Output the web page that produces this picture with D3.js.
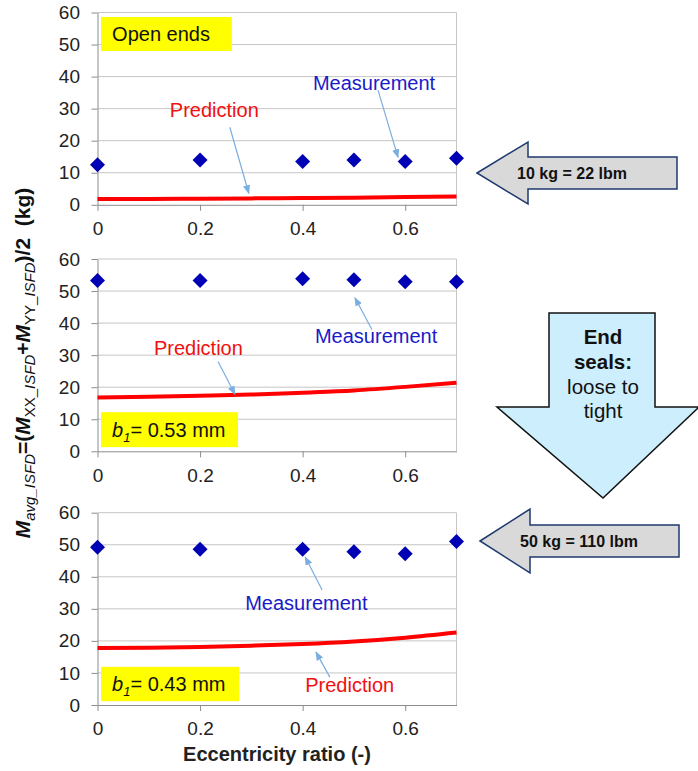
<!DOCTYPE html>
<html>
<head>
<meta charset="utf-8">
<script src="https://cdn.jsdelivr.net/npm/d3@7"></script>
<style>
  body { margin: 0; background: #fff; }
  svg { display: block; font-family: "Liberation Sans", Arial, sans-serif; }
</style>
</head>
<body>
<div id="app"></div>
<script>
const width = 698;
const height = 771;

// eccentricity ratios where measurements were taken
const ecc = [0, 0.2, 0.4, 0.5, 0.6, 0.7];
const measOpen = [12.5, 14, 13.5, 14, 13.5, 14.5];
const meas053 = [53.3, 53.3, 53.8, 53.5, 52.9, 52.9];
const meas043 = [49.2, 48.6, 48.6, 47.8, 47.2, 51.0];

// prediction curves
const predX = [0, 0.1, 0.2, 0.3, 0.4, 0.5, 0.6, 0.7];
const predOpen = [1.8, 1.8, 1.9, 2.0, 2.1, 2.2, 2.4, 2.6];
const pred053 = [16.8, 17.0, 17.3, 17.7, 18.3, 19.0, 20.1, 21.4];
const pred043 = [17.8, 17.9, 18.1, 18.5, 19.0, 19.8, 21.0, 22.6];

const yTicks = [0, 10, 20, 30, 40, 50, 60];
const xTicks = [0, 0.2, 0.4, 0.6];
const xTickLabels = ['0', '0.2', '0.4', '0.6'];

const panels = [
  {
    top: 12.5, meas: measOpen, pred: predOpen,
    box: {x0: 0.007, x1: 0.262, y0: 58.6, y1: 48, label: 'Open ends'},
    measText: [0.42, 38], measArrow: [0.547, 35.8, 0.586, 14.8],
    predText: [0.141, 29.5], predArrow: [0.258, 24.2, 0.295, 3.6],
  },
  {
    top: 259, meas: meas053, pred: pred053,
    box: {x0: 0.007, x1: 0.274, y0: 12.2, y1: 1.3, b1: '0.53'},
    measText: [0.424, 36.1], measArrow: [0.535, 38.0, 0.502, 47.9],
    predText: [0.110, 32.4], predArrow: [0.235, 28.0, 0.268, 17.8],
  },
  {
    top: 512.7, meas: meas043, pred: pred043,
    box: {x0: 0.007, x1: 0.276, y0: 11.9, y1: 1.2, b1: '0.43'},
    measText: [0.288, 32], measArrow: [0.438, 35.9, 0.405, 46.2],
    predText: [0.405, 6.2], predArrow: [0.453, 8.7, 0.426, 16.5],
  },
];

const plotLeft = 97.5;
const plotRight = 456.5;
const plotH = 192.3;
const FONT = '"Liberation Sans", Arial, sans-serif';

const svg = d3.select('#app').append('svg')
  .attr('width', width)
  .attr('height', height);

const defs = svg.append('defs');
defs.append('marker')
  .attr('id', 'ah')
  .attr('viewBox', '0 0 10 10')
  .attr('refX', 9).attr('refY', 5)
  .attr('markerWidth', 9).attr('markerHeight', 9)
  .attr('markerUnits', 'userSpaceOnUse')
  .attr('orient', 'auto')
  .append('path')
  .attr('d', 'M0,1 L10,5 L0,9 Z')
  .attr('fill', '#7aaee0');

const x = d3.scaleLinear().domain([0, 0.7]).range([plotLeft, plotRight]);

panels.forEach((p)=>{
  const y = d3.scaleLinear().domain([0, 60]).range([p.top + plotH, p.top]);
  const g = svg.append('g');

  // gridlines
  g.append('g')
    .selectAll('line')
    .data(yTicks.filter((t)=>t > 0))
    .join('line')
    .attr('x1', plotLeft).attr('x2', plotRight)
    .attr('y1', (d)=>y(d)).attr('y2', (d)=>y(d))
    .attr('stroke', '#c6c6c6')
    .attr('stroke-width', 1);

  // right border
  g.append('line')
    .attr('x1', plotRight).attr('x2', plotRight)
    .attr('y1', y(60)).attr('y2', y(0))
    .attr('stroke', '#c6c6c6');

  const yAxis = g.append('g')
    .attr('transform', `translate(${plotLeft},0)`)
    .call(d3.axisLeft(y).tickValues(yTicks).tickSize(6).tickPadding(11.5).tickSizeOuter(0));
  yAxis.select('.domain').attr('stroke', '#8c8c8c');
  yAxis.selectAll('.tick line').attr('stroke', '#8c8c8c');
  yAxis.selectAll('text').attr('font-size', 19).attr('fill', '#222').attr('font-family', FONT);

  const xAxis = g.append('g')
    .attr('transform', `translate(0,${y(0)})`)
    .call(d3.axisBottom(x).tickValues(xTicks).tickFormat((d, i)=>xTickLabels[i])
      .tickSize(6).tickPadding(11).tickSizeOuter(0));
  xAxis.select('.domain').attr('stroke', '#8c8c8c');
  xAxis.selectAll('.tick line').attr('stroke', '#8c8c8c');
  xAxis.selectAll('text').attr('font-size', 19).attr('fill', '#222').attr('font-family', FONT);

  // yellow label box
  g.append('rect')
    .attr('x', x(p.box.x0)).attr('y', y(p.box.y0))
    .attr('width', x(p.box.x1) - x(p.box.x0))
    .attr('height', y(p.box.y1) - y(p.box.y0))
    .attr('fill', '#ffff00');
  const bt = g.append('text')
    .attr('x', x(p.box.x0) + 11)
    .attr('y', (y(p.box.y0) + y(p.box.y1)) / 2)
    .attr('dy', '0.36em')
    .attr('font-size', 20)
    .attr('fill', '#111');
  if (p.box.label) {
    bt.text(p.box.label);
  } else {
    bt.append('tspan').attr('font-style', 'italic').text('b');
    bt.append('tspan').attr('font-style', 'italic').attr('font-size', 13).attr('dy', 5).text('1');
    bt.append('tspan').attr('dy', -5).text('= ' + p.box.b1 + ' mm');
  }

  // prediction curve
  const line = d3.line()
    .x((d, i)=>x(predX[i]))
    .y((d)=>y(d))
    .curve(d3.curveMonotoneX);
  g.append('path')
    .datum(p.pred)
    .attr('d', line)
    .attr('fill', 'none')
    .attr('stroke', '#ff0000')
    .attr('stroke-width', 4);

  // measurement diamonds
  g.append('g')
    .selectAll('path')
    .data(p.meas)
    .join('path')
    .attr('transform', (d, i)=>`translate(${x(ecc[i])},${y(d)})`)
    .attr('d', 'M0,-7.5 L7.5,0 L0,7.5 L-7.5,0 Z')
    .attr('fill', '#0000b4');

  // annotations
  g.append('text')
    .attr('x', x(p.measText[0])).attr('y', y(p.measText[1]))
    .attr('dy', '0.36em')
    .attr('font-size', 20)
    .attr('fill', '#1a1ac8')
    .text('Measurement');
  g.append('text')
    .attr('x', x(p.predText[0])).attr('y', y(p.predText[1]))
    .attr('dy', '0.36em')
    .attr('font-size', 20)
    .attr('fill', '#f01010')
    .text('Prediction');
  [p.measArrow, p.predArrow].forEach((a)=>{
    g.append('line')
      .attr('x1', x(a[0])).attr('y1', y(a[1]))
      .attr('x2', x(a[2])).attr('y2', y(a[3]))
      .attr('stroke', '#7aaee0')
      .attr('stroke-width', 1.2)
      .attr('marker-end', 'url(#ah)');
  });
});

// x axis title
svg.append('text')
  .attr('x', 277).attr('y', 761)
  .attr('text-anchor', 'middle')
  .attr('font-size', 20)
  .attr('font-weight', 'bold')
  .attr('fill', '#222')
  .text('Eccentricity ratio (-)');

// y axis title
const yt = svg.append('text')
  .attr('transform', 'translate(30,363) rotate(-90)')
  .attr('text-anchor', 'middle')
  .attr('font-size', 21)
  .attr('font-weight', 'bold')
  .attr('fill', '#111')
  .attr('xml:space', 'preserve');
const parts = [
  ['M', 'bi', 0], ['avg_ISFD', 'si', 5], ['=(', 'b', -5], ['M', 'bi', 0],
  ['XX_', 's', 5], ['ISFD', 'si', 0], ['+', 'b', -5], ['M', 'bi', 0],
  ['YY_', 's', 5], ['ISFD', 'si', 0], [')/2  (kg)', 'b', -5],
];
parts.forEach(([t, style, dy])=>{
  const ts = yt.append('tspan').attr('dy', dy).text(t);
  if (style.includes('i')) ts.attr('font-style', 'italic');
  if (style.includes('s')) ts.attr('font-size', 15).attr('font-weight', 'normal');
});

// side arrows
function leftArrow(tipX, tipY, headX, headHalf, bodyHalf, endX, textX, label) {
  const pts = [
    [tipX, tipY], [headX, tipY - headHalf], [headX, tipY - bodyHalf],
    [endX, tipY - bodyHalf], [endX, tipY + bodyHalf], [headX, tipY + bodyHalf],
    [headX, tipY + headHalf],
  ];
  svg.append('polygon')
    .attr('points', pts.map((q)=>q.join(',')).join(' '))
    .attr('fill', '#d9d9d9')
    .attr('stroke', '#1f3a6e')
    .attr('stroke-width', 1.5);
  svg.append('text')
    .attr('x', textX).attr('y', tipY)
    .attr('dy', '0.36em')
    .attr('text-anchor', 'middle')
    .attr('font-size', 16)
    .attr('font-weight', 'bold')
    .attr('fill', '#111')
    .text(label);
}
leftArrow(477, 173, 528, 31, 16, 677, 572, '10 kg = 22 lbm');
leftArrow(480, 541, 530, 32, 16, 679, 579, '50 kg = 110 lbm');

// down arrow
const dpts = [[549, 313], [655, 313], [655, 407], [699, 407], [603, 498], [497, 407], [549, 407]];
svg.append('polygon')
  .attr('points', dpts.map((q)=>q.join(',')).join(' '))
  .attr('fill', '#cdeefc')
  .attr('stroke', '#111')
  .attr('stroke-width', 1.5);
[['End', true, 337], ['seals:', true, 362], ['loose to', false, 387], ['tight', false, 411]].forEach(([t, b, cy])=>{
  svg.append('text')
    .attr('x', 603).attr('y', cy)
    .attr('dy', '0.36em')
    .attr('text-anchor', 'middle')
    .attr('font-size', 20.5)
    .attr('font-weight', b ? 'bold' : 'normal')
    .attr('fill', '#111')
    .text(t);
});
</script>
</body>
</html>
